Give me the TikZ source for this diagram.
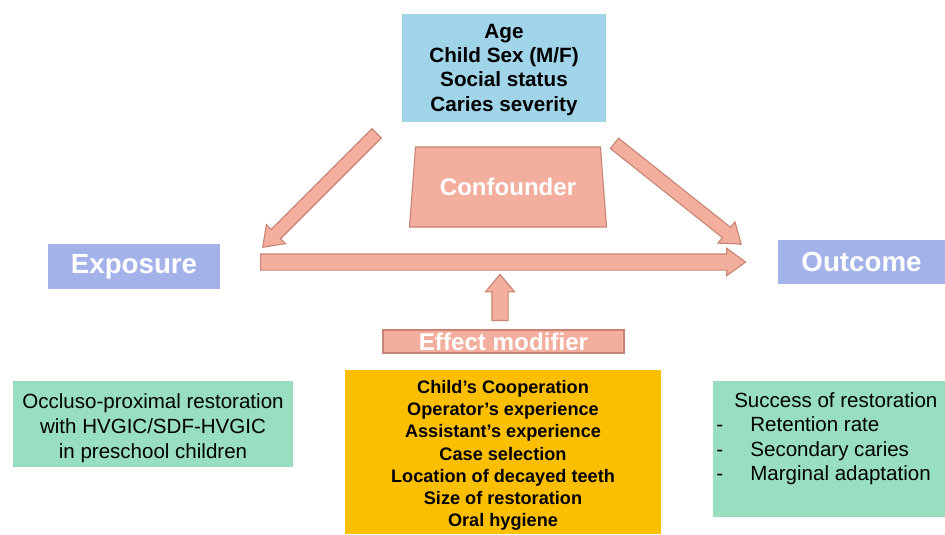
\documentclass[tikz,border=0pt]{standalone}
\usepackage{fontspec}
\setmainfont{Liberation Sans}
\usepackage{tikz}
\usetikzlibrary{calc,shapes.geometric,shapes.arrows}

\definecolor{topblue}{RGB}{160,212,232}
\definecolor{lilac}{RGB}{163,179,234}
\definecolor{salmon}{RGB}{244,174,158}
\definecolor{salmonline}{RGB}{200,132,116}
\definecolor{amber}{RGB}{252,191,0}
\definecolor{mint}{RGB}{152,222,192}

\tikzset{
  box/.style={inner sep=0pt, align=center},
  words/.style={inner sep=0pt, anchor=north},
  mainbox/.style={box, fill=lilac, text=white, font=\fontsize{19.7}{22}\selectfont\bfseries},
  pinkbox/.style={box, fill=salmon, draw=salmonline, line width=0.8pt, text=white,
    font=\fontsize{17.1}{20}\selectfont\bfseries},
  greenbox/.style={box, fill=mint},
  blockarrow/.style={single arrow, draw=salmonline, fill=salmon, line width=0.8pt,
    inner xsep=0pt, single arrow tip angle=72}
}

\newcommand{\blkarrow}[3][]{%
  \path let \p1=(#2), \p2=(#3), \n1={atan2(\y2-\y1,\x2-\x1)},
    \n2={veclen(\x2-\x1,\y2-\y1)} in
    node[blockarrow, #1, minimum height=\n2, rotate=\n1, anchor=tail] at (\p1) {};}

\begin{document}
\begin{tikzpicture}[x=0.025cm, y=-0.025cm]
    \fill[white] (0,0) rectangle (945,534);
    \useasboundingbox (0,0) rectangle (945,534);

    \node[box, fill=topblue, minimum width=5.1cm, minimum height=2.7cm] (confbox) at (504,68) {};
    \node[words, align=center, font=\fontsize{14.7}{17.4}\selectfont\bfseries] (confs) at (504,23.5)
      {Age\\Child Sex (M/F)\\Social status\\Caries severity};
    \node[pinkbox, trapezium, trapezium left angle=76, trapezium right angle=76,
      trapezium stretches=true, minimum width=4.925cm, minimum height=2cm]
      (conf) at (508,187) {Confounder};
    \node[mainbox, minimum width=4.3cm, minimum height=1.125cm] (expo) at (134,266.5) {Exposure};
    \node[mainbox, minimum width=4.175cm, minimum height=1.1cm] (outc) at (861.5,262) {Outcome};
    \node[pinkbox, minimum width=6.025cm, minimum height=0.575cm,
      font=\fontsize{17.2}{20}\selectfont\bfseries] (modi) at (503.5,341.5) {Effect modifier};

    \node[box, fill=amber, minimum width=7.9cm, minimum height=4.1cm] (modbox) at (503,452) {};
    \node[words, align=center, font=\fontsize{12.9}{15.8}\selectfont\bfseries] (mods) at (503,380)
      {Child's Cooperation\\Operator's experience\\Assistant's experience\\Case selection\\
       Location of decayed teeth\\Size of restoration\\Oral hygiene};

    \node[greenbox, minimum width=7cm, minimum height=2.15cm] (expbox) at (153,424) {};
    \node[words, align=center, font=\fontsize{14.6}{18}\selectfont] (expd) at (153,393)
      {Occluso-proximal restoration\\with HVGIC/SDF-HVGIC\\in preschool children};
    \node[greenbox, minimum width=5.8cm, minimum height=3.4cm] (outbox) at (829,449) {};
    \node[words, anchor=north west, align=left, font=\fontsize{14.6}{17.4}\selectfont] (outd) at (716,392)
      {\hspace*{12.8pt}Success of restoration\\-\hspace*{19.4pt}Retention rate\\
       -\hspace*{19.4pt}Secondary caries\\-\hspace*{19.4pt}Marginal adaptation};

    \coordinate (ltail) at (377,133);
    \coordinate (ltip) at (263,247);
    \coordinate (rtail) at (614,143);
    \coordinate (rtip) at (741,244);
    \coordinate (htail) at (260,262);
    \coordinate (htip) at (745,262);
    \coordinate (utail) at (500,321);
    \coordinate (utip) at (500,275);

    \blkarrow[inner ysep=0.15cm, single arrow head extend=0.175cm]{ltail}{ltip}
    \blkarrow[inner ysep=0.15cm, single arrow head extend=0.175cm]{rtail}{rtip}
    \blkarrow[inner ysep=0.1875cm, single arrow head extend=0.14cm]{htail}{htip}
    \blkarrow[inner ysep=0.1875cm, single arrow head extend=0.165cm, single arrow tip angle=80]{utail}{utip}
\end{tikzpicture}
\end{document}
